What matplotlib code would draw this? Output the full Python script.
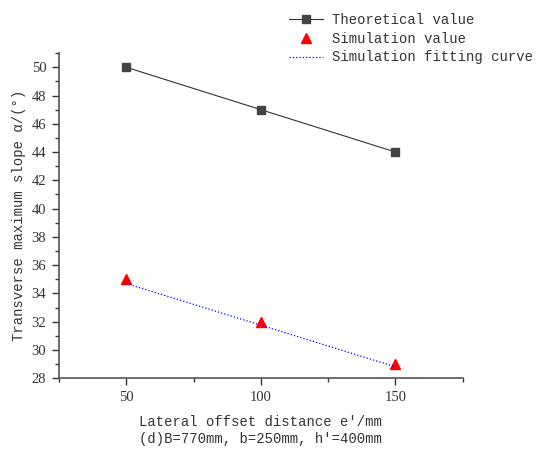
import matplotlib
matplotlib.use("Agg")
import matplotlib.pyplot as plt
from matplotlib.ticker import MultipleLocator

plt.rcParams['font.family'] = ['Liberation Mono', 'DejaVu Sans']

offsets = [50, 100, 150]
theoretical = [50, 47, 44]
simulation = [35, 32, 29]
fit_curve = [34.7, 31.75, 28.8]

fig = plt.figure(figsize=(5.4, 4.54), dpi=100)
ax = fig.add_axes([0.109, 0.167, 0.748, 0.716])

ax.plot(offsets, theoretical, color='#333333', lw=0.8, marker='s', ms=5.5,
        mfc='#444444', mec='#444444', label='Theoretical value')
ax.plot(offsets, simulation, ls='none', marker='^', ms=7, color='red',
        label='Simulation value')
ax.plot(offsets, fit_curve, ls=':', color='blue', lw=0.9,
        label='Simulation fitting curve')

ax.set_xlim(25, 175)
ax.set_ylim(28, 51)
ax.xaxis.set_major_locator(MultipleLocator(50))
ax.xaxis.set_minor_locator(MultipleLocator(25))
ax.yaxis.set_major_locator(MultipleLocator(2))
ax.yaxis.set_minor_locator(MultipleLocator(1))
ax.spines['top'].set_visible(False)
ax.spines['right'].set_visible(False)
for s in ('left', 'bottom'):
    ax.spines[s].set_color('#555555')
    ax.spines[s].set_linewidth(1.2)
ax.tick_params(which='major', direction='out', length=5, width=1, color='#333333',
               labelsize=10.5, labelcolor='#333333', pad=4)
ax.tick_params(which='minor', direction='out', length=3, width=1, color='#333333')
for lbl in ax.get_xticklabels() + ax.get_yticklabels():
    lbl.set_family(['Liberation Serif', 'DejaVu Serif'])

ax.set_xlabel("Lateral offset distance e′/mm\n(d)B=770mm, b=250mm, h′=400mm",
              fontsize=10, color='#333333', linespacing=1.3, labelpad=8)
ax.set_ylabel("Transverse maximum slope α/(°)", fontsize=10, color='#333333',
              labelpad=4)

fig.legend(loc='upper left', bbox_to_anchor=(0.515, 0.995), frameon=False,
           fontsize=10, handlelength=2.5, handletextpad=0.6, labelspacing=0.35,
           borderpad=0.25, labelcolor='#333333')

fig.savefig('out.png', dpi=100)
